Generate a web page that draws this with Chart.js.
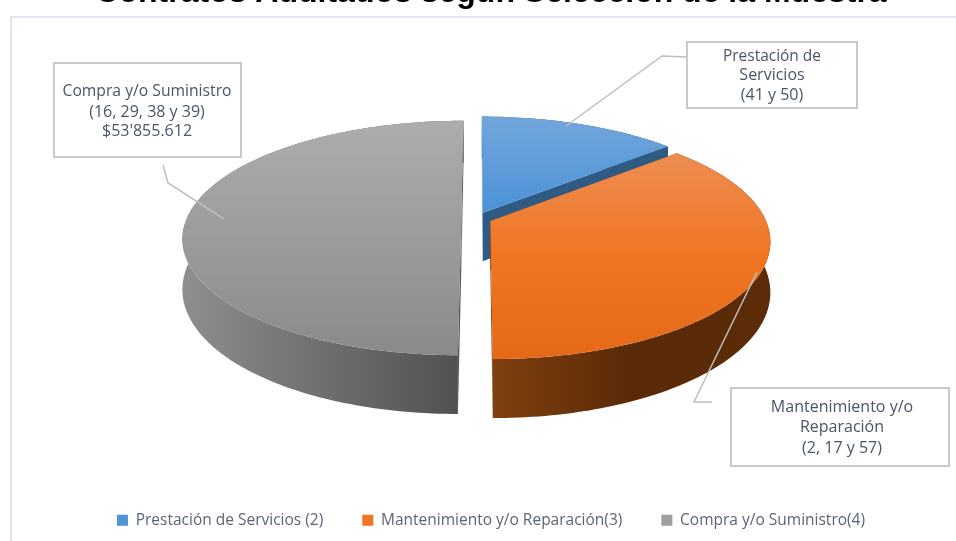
<!DOCTYPE html>
<html>
<head>
<meta charset="utf-8">
<title>Contratos Auditados</title>
<script src="https://cdn.jsdelivr.net/npm/chart.js@4/dist/chart.umd.min.js"></script>
<style>
	html, body { margin: 0; padding: 0; background: #fff; overflow: hidden; width: 956px; height: 541px; }
	#frame { position: absolute; left: 10px; top: 16px; width: 980px; height: 560px; border: 2px solid #e1e6ee; }
	#wrap { position: absolute; left: 0; top: -26px; width: 982px; height: 564px; }
</style>
</head>
<body>
<div id="frame"></div>
<div id="wrap"><canvas id="chart" width="982" height="564"></canvas></div>
<script>
const TITLE = 'Contratos Auditados según Selección de la Muestra';
const CATEGORIES = [ 'Prestación de Servicios (2)', 'Mantenimiento y/o Reparación(3)', 'Compra y/o Suministro(4)' ];
// Millions of pesos; only the last one is printed.
const VALUES = [ 14.7, 39.2, 53.86 ];
const CALLOUT_LINES = [
	[ 'Prestación de', 'Servicios', '(41 y 50)' ],
	[ 'Mantenimiento y/o', 'Reparación', '(2, 17 y 57)' ],
	[ 'Compra y/o Suministro', '(16, 29, 38 y 39)', "$53'855.612" ],
];

const LEGEND_COLORS = [ '#4f93d6', '#f07526', '#a0a0a0' ];
const TOP_SHADES = [ [ '#72a6db', '#4a92d8' ], [ '#ee8d52', '#f07522', '#e46a18' ], [ '#adadad', '#8a8a8a' ] ];
const WALL_SHADES = [ [ '#2f5a82', '#2f5a82' ], [ '#80400f', '#5a2a08', '#5c2c09' ], [ '#8e8e8e', '#505050' ] ];
const CUT_SHADES = [ '#2e5a84', '#7e3f10', '#555555' ];

// Box and leader geometry for the callouts (page pixels, canvas sits 26px higher).
const CALLOUT_BOXES = [
	{ x: 687, y: 42, w: 170, h: 66, cx: 772, lines: [ 56, 75, 95 ], leader: [ [ 566, 126 ], [ 662, 56 ], [ 687, 57 ] ], width: 98 },
	{ x: 731, y: 388, w: 218, h: 78, cx: 842, lines: [ 407, 427, 448 ], leader: [ [ 757, 272 ], [ 694, 402 ], [ 712, 402 ] ], width: 143 },
	{ x: 54, y: 63, w: 187, h: 94, cx: 147, lines: [ 91, 112, 131 ], leader: [ [ 224, 219 ], [ 168, 183 ], [ 163, 165 ] ], width: 169 },
];
const PAGE_TOP = -26;

// Fake the Excel 3D pie: project the library's arcs onto a tilted plane.
const VIEW = { shiftX: -14.5, shiftY: -24.5, stretchX: 1.224, stretchY: 0.508, perspective: 1 / 6, depth: 49 };

const pie3d = {
	id: 'pie3d',
	beforeDatasetsDraw( chart ) {
		const ctx = chart.ctx;
		const arcs = chart.getDatasetMeta( 0 ).data;
		const radius = arcs[ 0 ].outerRadius;
		const cx = arcs[ 0 ].x + VIEW.shiftX;
		const cy = arcs[ 0 ].y + VIEW.shiftY;
		const rx = radius * VIEW.stretchX;
		const ry = radius * VIEW.stretchY;

		const project = ( u, v, z ) => {
			const s = 1 / ( 1 - VIEW.perspective * v );
			return [ cx + rx * u * s, cy + ( ry * v + z ) * s ];
		};
		const polygon = ( points, fill ) => {
			ctx.beginPath();
			points.forEach( ( p, i ) => ( i ? ctx.lineTo( p[ 0 ], p[ 1 ] ) : ctx.moveTo( p[ 0 ], p[ 1 ] ) ) );
			ctx.closePath();
			ctx.fillStyle = fill;
			ctx.fill();
		};

		arcs.forEach( ( arc, i ) => {
			const mid = ( arc.startAngle + arc.endAngle ) / 2;
			const burst = arc.options.offset / radius;
			const ox = Math.cos( mid ) * burst;
			const oy = Math.sin( mid ) * burst;
			const rimUnit = [];
			const steps = Math.ceil( ( arc.endAngle - arc.startAngle ) / 0.02 );
			for ( let n = 0; n <= steps; n++ ) {
				const a = arc.startAngle + ( arc.endAngle - arc.startAngle ) * n / steps;
				rimUnit.push( [ ox + Math.cos( a ), oy + Math.sin( a ) ] );
			}
			const rimTop = rimUnit.map( ( p ) => project( p[ 0 ], p[ 1 ], 0 ) );
			const rimBottom = rimUnit.map( ( p ) => project( p[ 0 ], p[ 1 ], VIEW.depth ) );
			const apexTop = project( ox, oy, 0 );
			const apexBottom = project( ox, oy, VIEW.depth );
			const last = rimTop.length - 1;

			// cut faces
			polygon( [ apexTop, rimTop[ 0 ], rimBottom[ 0 ], apexBottom ], CUT_SHADES[ i ] );
			polygon( [ apexTop, rimTop[ last ], rimBottom[ last ], apexBottom ], CUT_SHADES[ i ] );

			// outer wall
			const xs = rimTop.map( ( p ) => p[ 0 ] );
			const wallFill = ctx.createLinearGradient( Math.min( ...xs ), 0, Math.max( ...xs ), 0 );
			const wall = WALL_SHADES[ i ];
			wall.forEach( ( c, k ) => wallFill.addColorStop( k / ( wall.length - 1 ), c ) );
			polygon( rimTop.concat( rimBottom.slice().reverse() ), wallFill );

			// top face
			const ys = rimTop.map( ( p ) => p[ 1 ] ).concat( apexTop[ 1 ] );
			const topFill = ctx.createLinearGradient( 0, Math.min( ...ys ), 0, Math.max( ...ys ) );
			const shades = TOP_SHADES[ i ];
			shades.forEach( ( c, k ) => topFill.addColorStop( k / ( shades.length - 1 ), c ) );
			polygon( [ apexTop ].concat( rimTop ), topFill );
		} );
		return false;
	},
	afterDraw( chart ) {
		const ctx = chart.ctx;
		ctx.save();
		CALLOUT_BOXES.forEach( ( box, i ) => {
			ctx.strokeStyle = '#bfbfbf';
			ctx.lineWidth = 1.5;
			ctx.beginPath();
			box.leader.forEach( ( p, n ) => {
				const y = p[ 1 ] - PAGE_TOP;
				return n ? ctx.lineTo( p[ 0 ], y ) : ctx.moveTo( p[ 0 ], y );
			} );
			ctx.stroke();

			ctx.fillStyle = '#fff';
			ctx.fillRect( box.x, box.y - PAGE_TOP, box.w, box.h );
			ctx.strokeStyle = '#c9c9c9';
			ctx.lineWidth = 2;
			ctx.strokeRect( box.x, box.y - PAGE_TOP, box.w, box.h );

			ctx.font = '16px "Open Sans"';
			ctx.fillStyle = '#4a5568';
			ctx.textAlign = 'center';
			ctx.textBaseline = 'middle';
			CALLOUT_LINES[ i ].forEach( ( line, n ) => {
				ctx.fillText( line, box.cx, box.lines[ n ] - PAGE_TOP, box.width );
			} );
		} );
		ctx.restore();
	},
};

new Chart( document.getElementById( 'chart' ), {
	type: 'pie',
	data: {
		labels: CATEGORIES,
		datasets: [ {
			data: VALUES,
			backgroundColor: LEGEND_COLORS,
			borderWidth: 0,
			offset: 12.4,
		} ],
	},
	options: {
		responsive: false,
		animation: false,
		rotation: 0,
		layout: { padding: 0 },
		plugins: {
			title: {
				display: true,
				text: TITLE,
				color: '#000',
				padding: { top: 0, bottom: 0 },
				font: { family: '"Liberation Sans"', size: 32, weight: 'bold', lineHeight: 1.2 },
			},
			legend: {
				position: 'bottom',
				labels: {
					boxWidth: 11,
					boxHeight: 11,
					padding: 39,
					color: '#5b6579',
					font: { family: '"Open Sans"', size: 15.5 },
				},
			},
			tooltip: { enabled: false },
		},
	},
	plugins: [ pie3d ],
} );
</script>
</body>
</html>
